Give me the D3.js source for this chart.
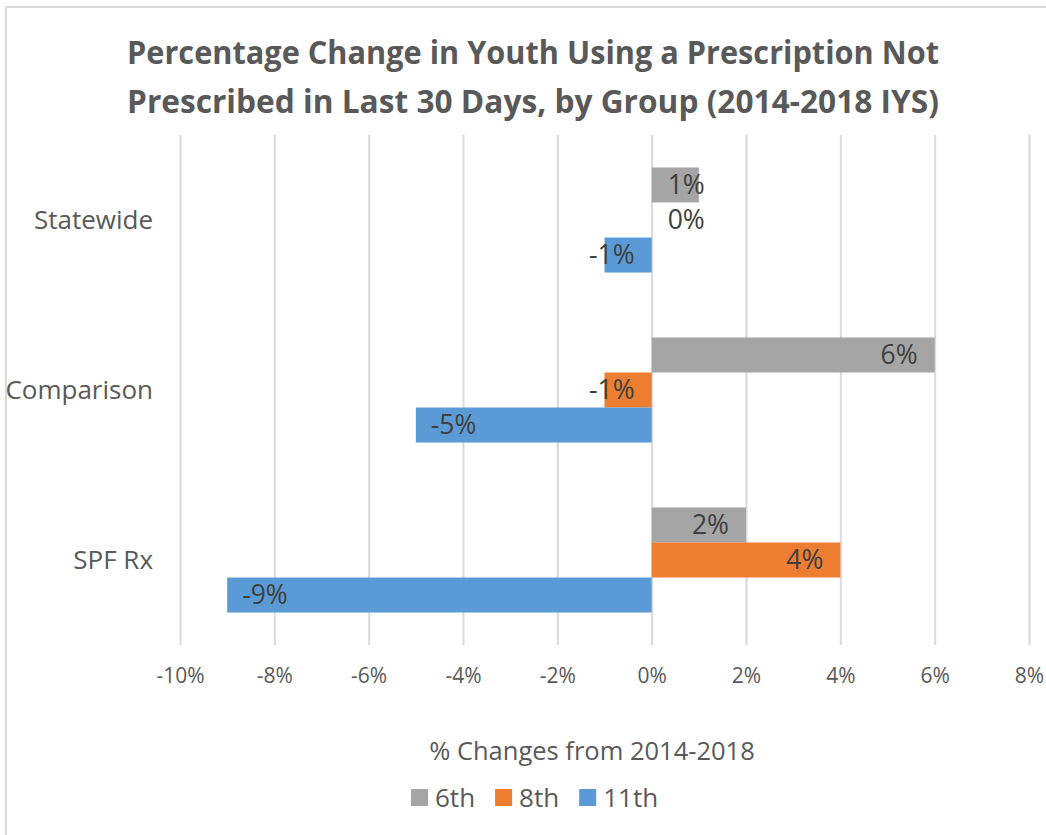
<!DOCTYPE html>
<html>
<head>
<meta charset="utf-8">
<script src="https://cdn.jsdelivr.net/npm/d3@7"></script>
<style>
  html, body { margin: 0; padding: 0; background: #fff; }
  svg { display: block; font-family: "Open Sans", "Noto Sans", sans-serif; }
</style>
</head>
<body>
<svg id="chart" width="1046" height="835"></svg>
<script>
// Chart data
const categories = ["Statewide", "Comparison", "SPF Rx"];
const seriesNames = ["6th", "8th", "11th"];
const values6th = [1, 6, 2];
const values8th = [0, -1, 4];
const values11th = [-1, -5, -9];
const xTicks = [-10, -8, -6, -4, -2, 0, 2, 4, 6, 8];
const titleLines = [
  "Percentage Change in Youth Using a Prescription Not",
  "Prescribed in Last 30 Days, by Group (2014-2018 IYS)"
];
const axisTitle = "% Changes from 2014-2018";
const colors = ["#A5A5A5", "#ED7D31", "#5B9BD5"];

const series = seriesNames.map((name, i) => ({
  name,
  color: colors[i],
  values: [values6th, values8th, values11th][i]
}));

const svg = d3.select("#chart");
const W = 1046, H = 835;

// Outer chart border
svg.append("rect")
  .attr("x", 6).attr("y", 7)
  .attr("width", W + 10).attr("height", H + 10)
  .attr("fill", "#fff")
  .attr("stroke", "#d9d9d9").attr("stroke-width", 2);

// Scales
const x = d3.scaleLinear().domain([-10, 8]).range([180, 1029]);
const y = d3.scaleBand().domain(categories).range([135, 645])
  .paddingInner(0.382).paddingOuter(0.191);
const ySub = d3.scaleBand().domain(seriesNames).range([0, y.bandwidth()]);

// Title
const title = svg.append("g").attr("fill", "#595959")
  .attr("font-weight", "bold").attr("font-size", 33);
titleLines.forEach((t, i) => {
  title.append("text")
    .attr("x", 533).attr("y", 64 + i * 49)
    .attr("text-anchor", "middle")
    .attr("textLength", 812)
    .attr("lengthAdjust", "spacingAndGlyphs")
    .text(t);
});

// Vertical gridlines and tick labels via the axis generator
const xAxis = d3.axisBottom(x)
  .tickValues(xTicks)
  .tickFormat(d => d + "%")
  .tickSize(-(645 - 135))
  .tickPadding(20);

const gx = svg.append("g")
  .attr("transform", "translate(0,645)")
  .call(xAxis);
gx.select(".domain").remove();
gx.selectAll(".tick line").attr("stroke", "#d9d9d9").attr("stroke-width", 2);
gx.selectAll(".tick text")
  .attr("fill", "#595959")
  .attr("font-size", 21)
  .attr("font-family", "'Open Sans', sans-serif")
  .attr("dy", "0.71em")
  .attr("y", 23);

// Category labels
const yAxis = d3.axisLeft(y).tickSize(0).tickPadding(0);
const gy = svg.append("g").attr("transform", "translate(153,0)").call(yAxis);
gy.select(".domain").remove();
gy.selectAll(".tick text")
  .attr("fill", "#595959")
  .attr("font-size", 26)
  .attr("font-family", "'Open Sans', sans-serif")
  .attr("dy", "0.35em");

// Bars
const groups = svg.append("g").selectAll("g")
  .data(categories)
  .join("g")
  .attr("transform", c => `translate(0,${y(c)})`);

const cells = groups.selectAll("g.cell")
  .data((c, ci) => series.map(s => ({ cat: c, name: s.name, color: s.color, v: s.values[ci] })))
  .join("g").attr("class", "cell");

cells.append("rect")
  .attr("x", d => Math.min(x(0), x(d.v)))
  .attr("y", d => ySub(d.name))
  .attr("width", d => Math.abs(x(d.v) - x(0)))
  .attr("height", ySub.bandwidth())
  .attr("fill", d => d.color);

// Value labels, placed inside the bar end and kept clear of the zero line
const pad = 16;
cells.append("text")
  .attr("y", d => ySub(d.name) + ySub.bandwidth() / 2)
  .attr("dy", "0.35em")
  .attr("fill", "#404040")
  .attr("font-size", 26.5)
  .text(d => d.v + "%")
  .each(function (d) {
    const w = this.getComputedTextLength();
    let left;
    if (d.v >= 0) {
      const right = Math.max(x(d.v) - pad - 1, x(0) + pad + w);
      left = right - w;
    } else {
      left = Math.min(x(d.v) + pad - 1, x(0) - pad - 1 - w);
    }
    d3.select(this).attr("x", left);
  });

// Axis title
svg.append("text")
  .attr("x", 592).attr("y", 760)
  .attr("text-anchor", "middle")
  .attr("fill", "#595959")
  .attr("font-size", 25.5)
  .text(axisTitle);

// Legend
const legend = svg.append("g").attr("transform", "translate(411,789)");
let lx = 0;
series.forEach(s => {
  const g = legend.append("g").attr("transform", `translate(${lx},0)`);
  g.append("rect").attr("width", 17).attr("height", 17).attr("fill", s.color);
  const t = g.append("text")
    .attr("x", 24).attr("y", 8.5).attr("dy", "0.35em")
    .attr("fill", "#595959").attr("font-size", 26)
    .text(s.name);
  lx += 24 + t.node().getComputedTextLength() + 20;
});
</script>
</body>
</html>
